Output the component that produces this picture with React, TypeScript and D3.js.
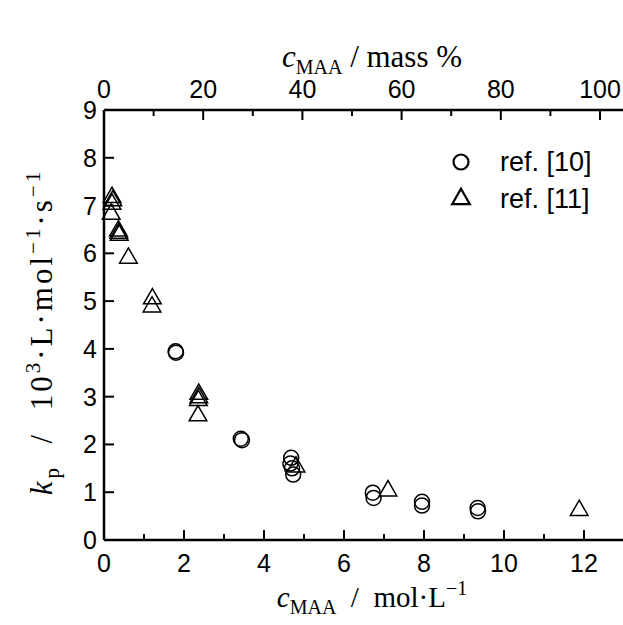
import * as d3 from "d3";

// ref. [10] (circles): [c_MAA mol/L, kp 10^3 L/mol/s]
const ref10X = [1.79, 1.8, 3.42, 3.45, 4.68, 4.66, 4.7, 4.73, 6.72, 6.74, 7.95, 7.95, 9.34, 9.35];
const ref10Y = [3.95, 3.92, 2.12, 2.09, 1.72, 1.6, 1.5, 1.37, 0.99, 0.88, 0.8, 0.72, 0.67, 0.6];

// ref. [11] (triangles)
const ref11X = [0.2, 0.22, 0.2, 0.18, 0.36, 0.37, 0.38, 0.61, 1.21, 1.2, 2.37, 2.37, 2.36, 2.35, 4.8, 7.1, 11.88];
const ref11Y = [7.17, 7.1, 7.03, 6.82, 6.47, 6.42, 6.38, 5.9, 5.05, 4.88, 3.05, 2.98, 2.92, 2.6, 1.53, 1.03, 0.62];

const xTicks = [0, 2, 4, 6, 8, 10, 12];
const xMinor = [1, 3, 5, 7, 9, 11];
const yTicks = [0, 1, 2, 3, 4, 5, 6, 7, 8, 9];
const topTicks = [0, 20, 40, 60, 80, 100];
const topMinor = [10, 30, 50, 70, 90];

const W = 623;
const H = 625;
const M = { left: 104, top: 110, bottom: 540 };

const sans = "Liberation Sans, Arial, sans-serif";
const serif = "Liberation Serif, Times New Roman, serif";

export default function App() {
  const x = d3.scaleLinear().domain([0, 13]).range([M.left, M.left + 13 * 40]);
  const xTop = d3.scaleLinear().domain([0, 100]).range([M.left, 600]);
  const y = d3.scaleLinear().domain([0, 9]).range([M.bottom, M.top]);
  const tri = d3.symbol(d3.symbolTriangle, 135)();

  const circles = ref10X.map((v, i) => [v, ref10Y[i]]);
  const triangles = ref11X.map((v, i) => [v, ref11Y[i]]);

  return (
    <svg width={W} height={H} style={{ position: "absolute", left: 0, top: 0, background: "#fff" }}>
      {/* frame */}
      <line x1={M.left} x2={W} y1={M.bottom} y2={M.bottom} stroke="#000" strokeWidth={2.5} />
      <line x1={M.left} x2={W} y1={M.top} y2={M.top} stroke="#000" strokeWidth={2.5} />
      <line x1={M.left} x2={M.left} y1={M.top} y2={M.bottom} stroke="#000" strokeWidth={2.5} />

      {/* bottom axis */}
      {xTicks.map((t) => (
        <g key={"xb" + t}>
          <line x1={x(t)} x2={x(t)} y1={M.bottom} y2={M.bottom - 10} stroke="#000" strokeWidth={2} />
          <text x={x(t)} y={M.bottom + 32} textAnchor="middle" fontFamily={sans} fontSize={25}>{t}</text>
        </g>
      ))}
      {xMinor.map((t) => (
        <line key={"xm" + t} x1={x(t)} x2={x(t)} y1={M.bottom} y2={M.bottom - 6} stroke="#000" strokeWidth={2} />
      ))}

      {/* top axis */}
      {topTicks.map((t) => (
        <g key={"xt" + t}>
          <line x1={xTop(t)} x2={xTop(t)} y1={M.top} y2={M.top + 10} stroke="#000" strokeWidth={2} />
          <text x={xTop(t)} y={M.top - 12} textAnchor="middle" fontFamily={sans} fontSize={25}>{t}</text>
        </g>
      ))}
      {topMinor.map((t) => (
        <line key={"tm" + t} x1={xTop(t)} x2={xTop(t)} y1={M.top} y2={M.top + 6} stroke="#000" strokeWidth={2} />
      ))}

      {/* left axis */}
      {yTicks.map((t) => (
        <g key={"y" + t}>
          <line x1={M.left} x2={M.left + 10} y1={y(t)} y2={y(t)} stroke="#000" strokeWidth={2} />
          <text x={M.left - 7} y={y(t) + 9} textAnchor="end" fontFamily={sans} fontSize={25}>{t}</text>
        </g>
      ))}

      {/* data */}
      {circles.map(([a, b], i) => (
        <circle key={"c" + i} cx={x(a)} cy={y(b)} r={7.5} fill="none" stroke="#000" strokeWidth={1.5} />
      ))}
      {triangles.map(([a, b], i) => (
        <path key={"t" + i} d={tri} transform={`translate(${x(a)},${y(b)})`} fill="none" stroke="#000" strokeWidth={1.5} />
      ))}

      {/* legend */}
      <circle cx={461} cy={162} r={7.5} fill="none" stroke="#000" strokeWidth={2.2} />
      <text x={500} y={171} fontFamily={sans} fontSize={27}>ref. [10]</text>
      <path d={tri} transform="translate(461,199)" fill="none" stroke="#000" strokeWidth={2.2} />
      <text x={500} y={208} fontFamily={sans} fontSize={27}>ref. [11]</text>

      {/* titles */}
      <text x={372} y={67} textAnchor="middle" fontFamily={serif} fontSize={31}>
        <tspan fontStyle="italic">c</tspan>
        <tspan fontSize={20} dy={7}>MAA</tspan>
        <tspan dy={-7}> / mass %</tspan>
      </text>
      <text x={372} y={607} textAnchor="middle" fontFamily={serif} fontSize={29} style={{ whiteSpace: "pre" }}>
        <tspan fontStyle="italic">c</tspan>
        <tspan fontSize={20} dy={7}>MAA</tspan>
        <tspan dy={-7}>{"  /  mol·L"}</tspan>
        <tspan fontSize={20} dy={-12}>−1</tspan>
      </text>
      <text transform="translate(52,332) rotate(-90)" textAnchor="middle" fontFamily={serif} fontSize={31} letterSpacing={3} style={{ whiteSpace: "pre" }}>
        <tspan fontStyle="italic">k</tspan>
        <tspan fontSize={21} dy={7}>p</tspan>
        <tspan dy={-7}>{"  /  10"}</tspan>
        <tspan fontSize={21} dy={-12}>3</tspan>
        <tspan dy={12}>·L·mol</tspan>
        <tspan fontSize={21} dy={-12}>−1</tspan>
        <tspan dy={12}>·s</tspan>
        <tspan fontSize={21} dy={-12}>−1</tspan>
      </text>
    </svg>
  );
}
